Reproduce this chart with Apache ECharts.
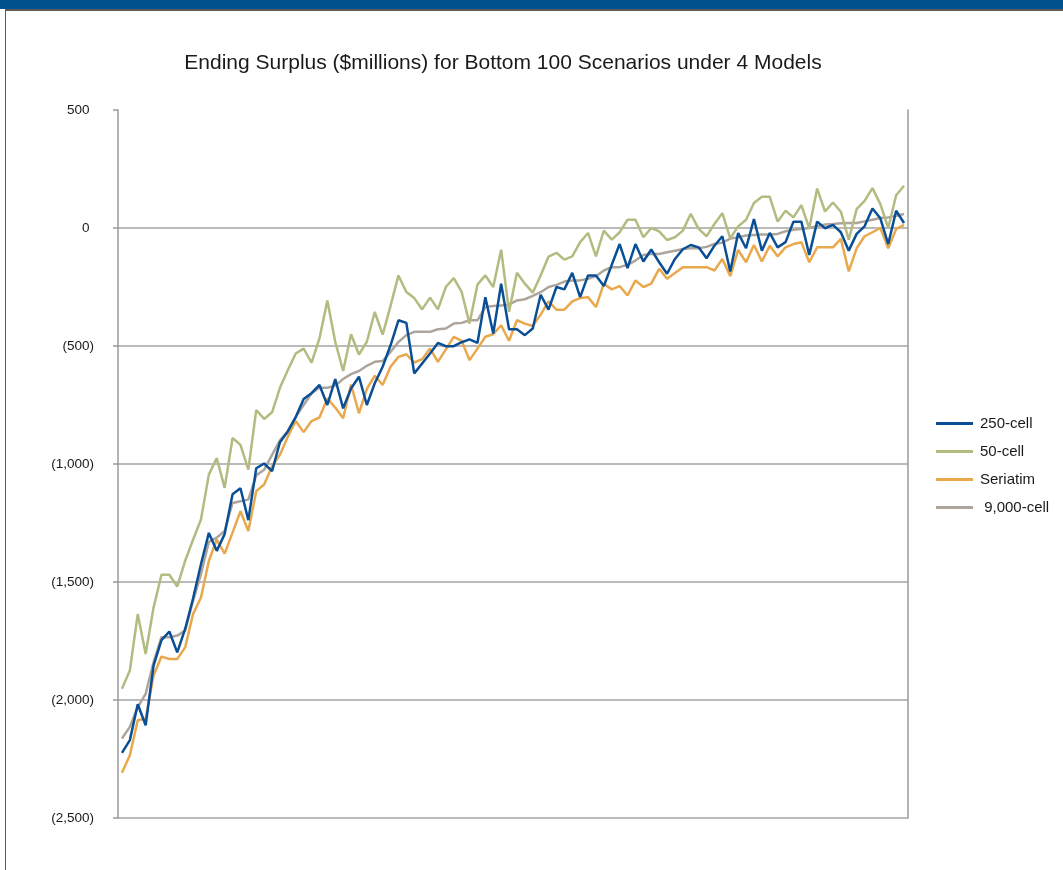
<!DOCTYPE html>
<html>
<head>
<meta charset="utf-8">
<title>Ending Surplus</title>
<script src="https://cdn.jsdelivr.net/npm/echarts@6/dist/echarts.min.js"></script>
<style>
  html, body { margin: 0; padding: 0; background: #fff; }
  #chart { position: absolute; left: 0; top: 0; width: 1063px; height: 870px; }
  .band { position: absolute; left: 0; top: 0; width: 1063px; height: 9px; background: #00528c; }
  .rule { position: absolute; left: 5px; top: 9px; width: 1058px; height: 2px; background: #5c5c5c; }
  .side { position: absolute; left: 5px; top: 9px; width: 1px; height: 861px; background: #5c5c5c; }
</style>
</head>
<body>
<div id="chart"></div>
<div class="band"></div>
<div class="rule"></div>
<div class="side"></div>
<script>
const seriesNames = ["250-cell", "50-cell", "Seriatim", " 9,000-cell"];
const yTicks = [-2500, -2000, -1500, -1000, -500, 0, 500];

// scenario rank 1..100 (categories only)
const scenarios = [];
for (let i = 1; i <= 100; i++) scenarios.push(String(i));

const cell250 = [
  -2224, -2170, -2018, -2107, -1854, -1746, -1710, -1798, -1699, -1570,
  -1425, -1292, -1368, -1297, -1128, -1103, -1238, -1018, -998, -1030,
  -908, -862, -801, -725, -700, -665, -750, -640, -764, -680,
  -630, -750, -658, -588, -497, -391, -402, -616, -574, -532,
  -487, -501, -501, -484, -472, -487, -293, -447, -236, -429,
  -429, -454, -426, -283, -346, -250, -260, -190, -293, -201,
  -201, -246, -156, -68, -170, -68, -142, -91, -145, -194,
  -131, -90, -72, -82, -128, -75, -35, -184, -21, -86,
  38, -96, -21, -82, -60, 27, 27, -114, 27, -1,
  13, -18, -96, -25, 7, 83, 41, -68, 73, 21
];

const cell50 = [
  -1952, -1875, -1636, -1805, -1608, -1469, -1469, -1519, -1410, -1321,
  -1235, -1045, -975, -1101, -890, -919, -1024, -771, -809, -781,
  -677, -602, -532, -511, -571, -468, -307, -482, -606, -450,
  -536, -482, -356, -452, -330, -201, -271, -297, -345, -295,
  -345, -250, -212, -271, -405, -240, -201, -250, -92, -355,
  -190, -236, -274, -201, -121, -105, -134, -120, -60, -21,
  -120, -11, -49, -18, 35, 35, -39, 0, -14, -51,
  -39, -11, 60, -4, -35, 17, 63, -44, 7, 35,
  106, 132, 132, 27, 73, 45, 97, -1, 167, 70,
  108, 69, -49, 80, 115, 169, 101, 0, 139, 179
];

const seriatim = [
  -2308, -2234, -2086, -2079, -1896, -1816, -1826, -1826, -1777, -1636,
  -1566, -1411, -1320, -1380, -1291, -1200, -1284, -1115, -1087, -1010,
  -961, -884, -818, -865, -818, -803, -722, -761, -806, -663,
  -785, -682, -626, -665, -588, -546, -535, -570, -556, -511,
  -567, -514, -461, -478, -560, -511, -461, -450, -412, -478,
  -391, -405, -415, -367, -311, -346, -346, -311, -297, -293,
  -335, -236, -260, -246, -286, -222, -250, -236, -173, -215,
  -191, -166, -166, -166, -166, -180, -131, -204, -93, -145,
  -72, -142, -75, -120, -82, -68, -60, -145, -82, -82,
  -82, -46, -184, -86, -35, -18, 0, -86, -4, 13
];

const cell9000 = [
  -2163, -2114, -2030, -1974, -1840, -1734, -1734, -1727, -1706, -1580,
  -1467, -1330, -1312, -1284, -1165, -1158, -1151, -1048, -1024, -961,
  -900, -860, -800, -750, -700, -677, -677, -668, -640, -619,
  -606, -584, -567, -564, -525, -483, -454, -440, -440, -440,
  -429, -426, -405, -402, -391, -391, -335, -331, -328, -325,
  -307, -302, -288, -272, -250, -241, -227, -222, -222, -215,
  -204, -180, -166, -166, -156, -138, -114, -110, -110, -103,
  -96, -89, -86, -86, -80, -68, -62, -45, -39, -32,
  -30, -28, -28, -25, -14, -7, -4, 0, 7, 15,
  17, 20, 21, 21, 28, 35, 42, 45, 52, 59
];

const colors = ["#0a4f96", "#b3bb80", "#e9a84c", "#ada59c"];
const font = "'Liberation Sans', Arial, Helvetica, sans-serif";

function fmt(v) {
  const s = Math.abs(v).toLocaleString("en-US");
  if (v < 0) return "(" + s + ")";
  return s + "{p|)}";
}

const chart = echarts.init(document.getElementById("chart"));

chart.setOption({
  animation: false,
  backgroundColor: "#fff",
  textStyle: { fontFamily: font },
  title: {
    text: "Ending Surplus ($millions) for Bottom 100 Scenarios under 4 Models",
    left: 498,
    top: 48,
    textAlign: "center",
    textStyle: { fontSize: 21, fontWeight: "normal", color: "#1a1a1a", fontFamily: font }
  },
  legend: {
    orient: "vertical",
    left: 931,
    top: 411,
    icon: "rect",
    itemWidth: 37,
    itemHeight: 3,
    itemGap: 13,
    data: seriesNames,
    textStyle: { fontSize: 15, color: "#1a1a1a", padding: [0, 0, 0, 2], fontFamily: font }
  },
  grid: { left: 118, right: 155, top: 110, bottom: 52 },
  xAxis: {
    type: "category",
    data: scenarios,
    boundaryGap: true,
    axisLine: { show: false },
    axisTick: { show: false },
    axisLabel: { show: false },
    splitLine: { show: false }
  },
  yAxis: [
    {
      type: "value",
      min: yTicks[0],
      max: yTicks[yTicks.length - 1],
      interval: 500,
      axisLine: { show: true, lineStyle: { color: "#9a9a9a", width: 1.5 } },
      axisTick: { show: true, length: 5, lineStyle: { color: "#9a9a9a", width: 1.5 } },
      axisLabel: {
        margin: 24,
        fontSize: 13.5,
        color: "#1a1a1a",
        formatter: fmt,
        rich: { p: { color: "transparent", fontSize: 13.5 } }
      },
      splitLine: { show: true, showMaxLine: false, lineStyle: { color: "#a3a3a3", width: 1.5 } }
    },
    {
      type: "value",
      position: "right",
      min: yTicks[0],
      max: yTicks[yTicks.length - 1],
      interval: 500,
      axisLine: { show: true, lineStyle: { color: "#9a9a9a", width: 1.5 } },
      axisTick: { show: false },
      axisLabel: { show: false },
      splitLine: { show: false }
    }
  ],
  series: [
    { name: seriesNames[0], type: "line", data: cell250, z: 5 },
    { name: seriesNames[1], type: "line", data: cell50, z: 4 },
    { name: seriesNames[2], type: "line", data: seriatim, z: 3 },
    { name: seriesNames[3], type: "line", data: cell9000, z: 2 }
  ].map((s, i) => Object.assign(s, {
    showSymbol: false,
    symbol: "none",
    color: colors[i],
    lineStyle: { width: 2.5, color: colors[i] }
  }))
});
</script>
</body>
</html>
